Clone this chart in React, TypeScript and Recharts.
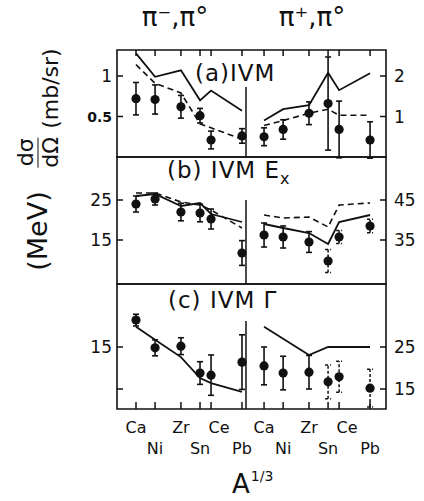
import React from "react";
import {
  ComposedChart,
  ErrorBar,
  Line,
  ReferenceArea,
  ReferenceLine,
  Scatter,
  XAxis,
  YAxis,
} from "recharts";

const elements = ["Ca", "Ni", "Zr", "Sn", "Ce", "Pb"];
const cubeRootA = [3.42, 3.87, 4.48, 4.93, 5.19, 5.92];
// right half (pi+, pi0) shares the axis, shifted past the divider
const SHIFT = 3.02;
const X_DOMAIN: [number, number] = [2.972, 9.316];
const DIVIDER = 6.014;

// (a) IVM  dσ/dΩ (mb/sr)
const aSolidL = [1.28, 0.99, 1.07, 0.7, 0.82, 0.57];
const aDashL = [1.14, 0.91, 0.79, 0.41, 0.36, 0.22];
const aExpL = [0.72, 0.71, 0.62, 0.51, 0.21, 0.26];
const aErrL = [0.2, 0.18, 0.14, 0.09, 0.11, 0.09];
const aSolidR = [0.9, 1.18, 1.28, 2.08, 1.65, 2.07];
const aDashR = [0.78, 0.9, 1.08, 1.18, 1.03, 1.03];
const aExpR = [0.5, 0.68, 1.08, 1.32, 0.68, 0.42];
const aErrR = [0.22, 0.24, 0.28, 1.15, 0.7, 0.45];

// (b) IVM Ex (MeV)
const bSolidL = [26, 26.5, 23.5, 24.25, 21.5, 19.5];
const bDashL = [26.75, 26.75, 24.5, 23.75, 22.5, 18];
const bExpL = [24, 25.25, 22, 21.75, 20.25, 11.75];
const bErrL = [2, 1.5, 2.2, 2.2, 2.5, 3.1];
const bSolidR = [39, 38, 36.75, 34, 39.5, 41.25];
const bDashR = [41.25, 40.5, 40.75, 38.25, 43.75, 44.25];
const bExpR = [36.25, 35.75, 34.5, 29.75, 35.75, 38.5];
const bErrR = [3, 2.75, 2.6, 2.9, 1.6, 1.7];

// (c) IVM Γ (MeV)
const cSolidL = [19.8, 16.7, 12.6, 7.6, 6.4, 4.3];
const cExpL = [21.4, 14.8, 15.2, 8.8, 8.3, 11.4];
const cErrL = [1.4, 1.9, 2.0, 2.7, 4.8, 6.5];
const cSolidR = [29.8, null, 23.1, 25, 25, 25];
const cExpR = [20.5, 18.8, 19.0, 16.7, 17.9, 15.2];
const cErrR = [4.5, 4.0, 4.0, 4.0, 3.7, 4.5];

// error bars drawn dashed on the right half of (b) and (c)
const dashedErr = [false, false, false, true, true, true];

const INK = "#111";
const FONT = "'DejaVu Sans', 'Liberation Sans', sans-serif";
const xTicks = [...cubeRootA, ...cubeRootA.map((v) => v + SHIFT)];

const toPts = (
  ys: (number | null)[],
  right: boolean,
  errs?: number[],
  keep?: (i: number) => boolean
) =>
  ys.flatMap((y, i) =>
    y == null || (keep && !keep(i))
      ? []
      : [{ x: cubeRootA[i] + (right ? SHIFT : 0), y, e: errs ? errs[i] : 0 }]
  );

const dot = (p: any) => <circle cx={p.cx} cy={p.cy} r={4.6} fill={INK} />;

function yTick(side: "left" | "right", labels: Record<string, string>, bold: string[] = []) {
  return (props: any) => {
    const { x, y, payload } = props;
    const key = String(payload.value);
    const s = side === "left" ? 1 : -1;
    const isBold = bold.includes(key);
    return (
      <g>
        <line x1={x} x2={x + 6 * s} y1={y} y2={y} stroke={INK} strokeWidth={1.5} />
        <text
          x={side === "left" ? x - 5 : x + 8}
          y={y}
          dy="0.36em"
          textAnchor={side === "left" ? "end" : "start"}
          fontSize={isBold ? 14 : 17}
          fontWeight={isBold ? 700 : 400}
          fontFamily={FONT}
          fill={INK}
        >
          {labels[key] ?? ""}
        </text>
      </g>
    );
  };
}

function xTick(side: "top" | "bottom") {
  return (props: any) => {
    const { x, y, payload } = props;
    let idx = 0;
    xTicks.forEach((t, i) => {
      if (Math.abs(t - payload.value) < Math.abs(xTicks[idx] - payload.value)) idx = i;
    });
    const k = idx % 6;
    if (side === "top") {
      return <line x1={x} x2={x} y1={y} y2={y + 6} stroke={INK} strokeWidth={1.5} />;
    }
    const row = k % 2;
    const dx = elements[k] === "Ce" ? 8 : 0;
    return (
      <g>
        <line x1={x} x2={x} y1={y} y2={y - 7} stroke={INK} strokeWidth={1.5} />
        <text
          x={x + dx}
          y={y + (row ? 39 : 18)}
          dy="0.36em"
          textAnchor="middle"
          fontSize={16}
          fontFamily={FONT}
          fill={INK}
        >
          {elements[k]}
        </text>
      </g>
    );
  };
}

type PanelProps = {
  top: number;
  height: number;
  margin: { top: number; bottom: number };
  xSide: "top" | "bottom" | "none";
  xHeight: number;
  leftDomain: [number, number];
  rightDomain: [number, number];
  leftTicks: number[];
  rightTicks: number[];
  leftLabels: Record<string, string>;
  rightLabels: Record<string, string>;
  boldLeft?: string[];
  dividerTop: number;
  solidL: (number | null)[];
  dashL?: (number | null)[];
  expL: number[];
  errL: number[];
  solidR: (number | null)[];
  dashR?: (number | null)[];
  expR: number[];
  errR: number[];
  dashRightErr: boolean;
};

function Panel(p: PanelProps) {
  const solidErr = toPts(p.expR, true, p.errR, (i) => !(p.dashRightErr && dashedErr[i]));
  const dashErr = toPts(p.expR, true, p.errR, (i) => p.dashRightErr && dashedErr[i]);
  return (
    <div style={{ position: "absolute", left: 0, top: p.top }}>
      <ComposedChart
        width={424}
        height={p.height}
        margin={{ top: p.margin.top, bottom: p.margin.bottom, left: 77, right: 0 }}
      >
        <XAxis
          dataKey="x"
          type="number"
          domain={X_DOMAIN}
          allowDataOverflow
          ticks={xTicks}
          orientation={p.xSide === "top" ? "top" : "bottom"}
          hide={p.xSide === "none"}
          height={p.xHeight}
          axisLine={false}
          tickLine={false}
          tickSize={0}
          tickMargin={0}
          interval={0}
          tick={p.xSide === "none" ? false : xTick(p.xSide)}
        />
        <YAxis
          yAxisId="left"
          type="number"
          domain={p.leftDomain}
          allowDataOverflow
          ticks={p.leftTicks}
          width={40}
          axisLine={false}
          tickLine={false}
          tickSize={0}
          tickMargin={0}
          interval={0}
          tick={yTick("left", p.leftLabels, p.boldLeft)}
        />
        <YAxis
          yAxisId="right"
          orientation="right"
          type="number"
          domain={p.rightDomain}
          allowDataOverflow
          ticks={p.rightTicks}
          width={38}
          axisLine={false}
          tickLine={false}
          tickSize={0}
          tickMargin={0}
          interval={0}
          tick={yTick("right", p.rightLabels)}
        />
        <ReferenceArea
          yAxisId="left"
          x1={X_DOMAIN[0]}
          x2={X_DOMAIN[1]}
          y1={p.leftDomain[0]}
          y2={p.leftDomain[1]}
          fill="none"
          stroke={INK}
          strokeWidth={1.6}
          ifOverflow="visible"
        />
        <ReferenceLine
          yAxisId="left"
          segment={[
            { x: DIVIDER, y: p.leftDomain[0] },
            { x: DIVIDER, y: p.dividerTop },
          ]}
          stroke={INK}
          strokeWidth={1.5}
          ifOverflow="visible"
        />
        <Line
          data={toPts(p.solidL, false)}
          dataKey="y"
          yAxisId="left"
          type="linear"
          stroke={INK}
          strokeWidth={1.8}
          dot={false}
          isAnimationActive={false}
        />
        {p.dashL && (
          <Line
            data={toPts(p.dashL, false)}
            dataKey="y"
            yAxisId="left"
            type="linear"
            stroke={INK}
            strokeWidth={1.6}
            strokeDasharray="6 4"
            dot={false}
            isAnimationActive={false}
          />
        )}
        <Line
          data={toPts(p.solidR, true)}
          dataKey="y"
          yAxisId="right"
          type="linear"
          stroke={INK}
          strokeWidth={1.8}
          dot={false}
          isAnimationActive={false}
        />
        {p.dashR && (
          <Line
            data={toPts(p.dashR, true)}
            dataKey="y"
            yAxisId="right"
            type="linear"
            stroke={INK}
            strokeWidth={1.6}
            strokeDasharray="6 4"
            dot={false}
            isAnimationActive={false}
          />
        )}
        <Scatter
          data={toPts(p.expL, false, p.errL)}
          dataKey="y"
          yAxisId="left"
          fill={INK}
          shape={dot}
          isAnimationActive={false}
        >
          <ErrorBar dataKey="e" direction="y" width={3} stroke={INK} strokeWidth={1.6} />
        </Scatter>
        <Scatter
          data={solidErr}
          dataKey="y"
          yAxisId="right"
          fill={INK}
          shape={dot}
          isAnimationActive={false}
        >
          <ErrorBar dataKey="e" direction="y" width={3} stroke={INK} strokeWidth={1.6} />
        </Scatter>
        {dashErr.length > 0 && (
          <Scatter
            data={dashErr}
            dataKey="y"
            yAxisId="right"
            fill={INK}
            shape={dot}
            isAnimationActive={false}
          >
            <ErrorBar
              dataKey="e"
              direction="y"
              width={3}
              stroke={INK}
              strokeWidth={1.5}
              strokeDasharray="3 2"
            />
          </Scatter>
        )}
      </ComposedChart>
    </div>
  );
}

const label = (left: number, top: number, size: number, extra: React.CSSProperties = {}) =>
  ({
    position: "absolute",
    left,
    top,
    fontFamily: FONT,
    fontSize: size,
    color: INK,
    lineHeight: 1,
    whiteSpace: "nowrap",
    ...extra,
  }) as React.CSSProperties;

export default function App() {
  return (
    <div
      style={{
        position: "absolute",
        left: 0,
        top: 0,
        width: 424,
        height: 501,
        background: "#fff",
        overflow: "hidden",
      }}
    >
      <Panel
        top={0}
        height={160}
        margin={{ top: 30, bottom: 3 }}
        xSide="top"
        xHeight={20}
        leftDomain={[0, 1.321]}
        rightDomain={[0, 2.642]}
        leftTicks={[0.5, 1]}
        rightTicks={[1, 2]}
        leftLabels={{ "0.5": "0.5", "1": "1" }}
        rightLabels={{ "1": "1", "2": "2" }}
        boldLeft={["0.5"]}
        dividerTop={0.864}
        solidL={aSolidL}
        dashL={aDashL}
        expL={aExpL}
        errL={aErrL}
        solidR={aSolidR}
        dashR={aDashR}
        expR={aExpR}
        errR={aErrR}
        dashRightErr={false}
      />
      <Panel
        top={150}
        height={140}
        margin={{ top: 7, bottom: 6 }}
        xSide="none"
        xHeight={0}
        leftDomain={[4, 35.75]}
        rightDomain={[24, 55.75]}
        leftTicks={[15, 25]}
        rightTicks={[35, 45]}
        leftLabels={{ "15": "15", "25": "25" }}
        rightLabels={{ "35": "35", "45": "45" }}
        dividerTop={25}
        solidL={bSolidL}
        dashL={bDashL}
        expL={bExpL}
        errL={bErrL}
        solidR={bSolidR}
        dashR={bDashR}
        expR={bExpR}
        errR={bErrR}
        dashRightErr={true}
      />
      <Panel
        top={280}
        height={221}
        margin={{ top: 4, bottom: 12 }}
        xSide="bottom"
        xHeight={80}
        leftDomain={[0.24, 30]}
        rightDomain={[10.24, 40]}
        leftTicks={[5, 15]}
        rightTicks={[15, 25]}
        leftLabels={{ "15": "15" }}
        rightLabels={{ "15": "15", "25": "25" }}
        dividerTop={21.2}
        solidL={cSolidL}
        expL={cExpL}
        errL={cErrL}
        solidR={cSolidR}
        expR={cExpR}
        errR={cErrR}
        dashRightErr={true}
      />

      <div style={label(175, 17, 26, { transform: "translate(-50%,-50%)" })}>π⁻,π°</div>
      <div style={label(312, 17, 26, { transform: "translate(-50%,-50%)" })}>π⁺,π°</div>

      <div style={label(195, 73, 23, { transform: "translateY(-50%)", letterSpacing: 1 })}>
        (a)IVM
      </div>
      <div style={label(167, 173, 23, { transform: "translateY(-50%)", letterSpacing: 1 })}>
        (b) IVM E<sub style={{ fontSize: 16 }}>x</sub>
      </div>
      <div style={label(168, 300, 23, { transform: "translateY(-50%)", letterSpacing: 1 })}>
        (c) IVM Γ
      </div>

      <div
        style={label(38, 108, 22, {
          transform: "translate(-50%,-50%) rotate(-90deg)",
          display: "flex",
          alignItems: "flex-end",
        })}
      >
        <span
          style={{
            display: "inline-flex",
            flexDirection: "column",
            alignItems: "center",
            marginRight: 8,
          }}
        >
          <span style={{ borderBottom: `1.5px solid ${INK}`, padding: "0 1px 1px" }}>dσ</span>
          <span style={{ paddingTop: 1 }}>dΩ</span>
        </span>
        <span>(mb/sr)</span>
      </div>
      <div style={label(37, 231, 27, { transform: "translate(-50%,-50%) rotate(-90deg)" })}>
        (MeV)
      </div>

      <div style={label(232, 470, 26, { lineHeight: "28px" })}>
        A
        <span style={{ fontSize: 14, position: "relative", top: -12, marginLeft: 1 }}>1/3</span>
      </div>
    </div>
  );
}
